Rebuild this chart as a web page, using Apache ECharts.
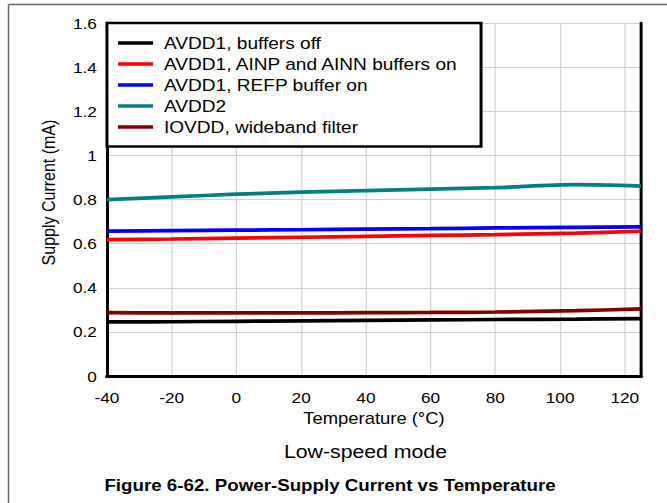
<!DOCTYPE html>
<html>
<head>
<meta charset="utf-8">
<script src="https://cdn.jsdelivr.net/npm/echarts@6/dist/echarts.min.js"></script>
<style>
html,body{margin:0;padding:0;background:#fff;overflow:hidden;}
#wrap{width:667px;height:503px;overflow:hidden;}
#chart{width:580px;height:503px;transform:scaleX(1.15);transform-origin:0 0;}
</style>
</head>
<body>
<div id="wrap"><div id="chart"></div></div>
<script>
// Data
var temperatures = [-40, -20, 0, 20, 40, 60, 80, 105, 125];
var avdd1BuffersOff = [0.245, 0.246, 0.248, 0.250, 0.252, 0.254, 0.256, 0.258, 0.260];
var avdd1AinBuffersOn = [0.618, 0.621, 0.625, 0.629, 0.633, 0.637, 0.641, 0.648, 0.656];
var avdd1RefpBufferOn = [0.657, 0.659, 0.661, 0.663, 0.666, 0.668, 0.671, 0.674, 0.676];
var avdd2 = [0.799, 0.812, 0.824, 0.833, 0.840, 0.847, 0.854, 0.867, 0.861];
var iovddWideband = [0.287, 0.286, 0.286, 0.286, 0.287, 0.288, 0.290, 0.296, 0.304];
var seriesNames = ['AVDD1, buffers off', 'AVDD1, AINP and AINN buffers on', 'AVDD1, REFP buffer on', 'AVDD2', 'IOVDD, wideband filter'];
var seriesValues = [avdd1BuffersOff, avdd1AinBuffersOn, avdd1RefpBufferOn, avdd2, iovddWideband];
var seriesColors = ['#000000', '#ff0000', '#0000ff', '#008080', '#800000'];
var xTitle = 'Temperature (°C)';
var yTitle = 'Supply Current (mA)';
var subTitle = 'Low-speed mode';
var figTitle = 'Figure 6-62. Power-Supply Current vs Temperature';

function pairs(vals) { return temperatures.map(function (t, i) { return [t, vals[i]]; }); }

var FONT = '"Liberation Sans", Arial, sans-serif';
var chart = echarts.init(document.getElementById('chart'), null, { renderer: 'svg' });
var frameAxis = { show: true, lineStyle: { color: '#000', width: 3 } };
var option = {
  animation: false,
  backgroundColor: '#fff',
  grid: { left: 93, right: 22.6, top: 23, bottom: 127, containLabel: false },
  legend: {
    orient: 'vertical', left: 93, top: 23,
    data: seriesNames,
    icon: 'rect', itemWidth: 30.5, itemHeight: 3.5, itemGap: 0,
    padding: [9.5, 19, 9, 9.6],
    backgroundColor: '#fff', borderColor: '#000', borderWidth: 2.6,
    textStyle: { fontFamily: FONT, fontSize: 16.6, color: '#000', lineHeight: 21, padding: [0, 0, 0, 4.5] }
  },
  xAxis: [{
    type: 'value', min: -40, max: 125, interval: 20,
    name: xTitle, nameLocation: 'middle', nameGap: 34,
    nameTextStyle: { fontFamily: FONT, fontSize: 16, color: '#000' },
    axisLine: frameAxis,
    axisTick: { show: false },
    axisLabel: { fontFamily: FONT, fontSize: 15, color: '#000', margin: 14, showMaxLabel: false },
    splitLine: { show: true, lineStyle: { color: '#cfcfcf', width: 1 } }
  }, {
    type: 'value', min: -40, max: 125, interval: 20, position: 'top',
    axisLine: frameAxis, axisTick: { show: false }, axisLabel: { show: false }, splitLine: { show: false }
  }],
  yAxis: [{
    type: 'value', min: 0, max: 1.6, interval: 0.2,
    axisLine: { show: true, onZero: false, lineStyle: { color: '#000', width: 2.6 } },
    axisTick: { show: false },
    axisLabel: { fontFamily: FONT, fontSize: 15, color: '#000', margin: 8.7 },
    splitLine: { show: true, lineStyle: { color: '#cfcfcf', width: 1 } }
  }, {
    type: 'value', min: 0, max: 1.6, interval: 0.2, position: 'right',
    axisLine: { show: true, onZero: false, lineStyle: { color: '#000', width: 2.6 } },
    axisTick: { show: false }, axisLabel: { show: false }, splitLine: { show: false }
  }],
  series: seriesNames.map(function (n, i) {
    return {
      name: n, type: 'line', data: pairs(seriesValues[i]), showSymbol: false, smooth: 0.3,
      xAxisIndex: 0, yAxisIndex: 0,
      lineStyle: { color: seriesColors[i], width: 3.7 }, itemStyle: { color: seriesColors[i] }, z: 3
    };
  }),
  graphic: [
    { type: 'line', shape: { x1: 7.4, y1: 4.5, x2: 580, y2: 4.5 }, style: { stroke: '#666', lineWidth: 1.5 } },
    { type: 'line', shape: { x1: 7.4, y1: 4.5, x2: 7.4, y2: 503 }, style: { stroke: '#666', lineWidth: 1.3 } },
    { type: 'text', x: 42.6, y: 192.5, rotation: Math.PI / 2,
      style: { text: yTitle, font: '16px ' + FONT, fill: '#000', align: 'center', verticalAlign: 'middle' } },
    { type: 'text', x: 317.8, y: 451.5,
      style: { text: subTitle, font: '18.5px ' + FONT, fill: '#000', align: 'center', verticalAlign: 'middle' } },
    { type: 'text', x: 287, y: 485.5,
      style: { text: figTitle, font: 'bold 16.3px ' + FONT, fill: '#000', align: 'center', verticalAlign: 'middle' } }
  ]
};
chart.setOption(option);
</script>
</body>
</html>
